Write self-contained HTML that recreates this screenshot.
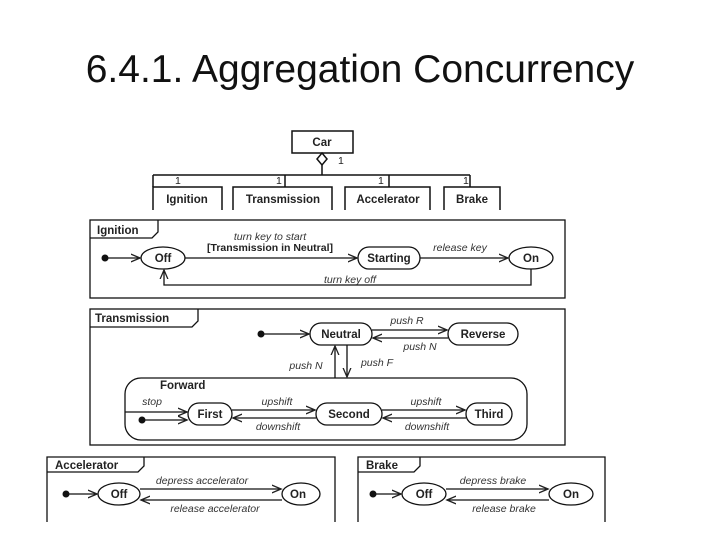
<!DOCTYPE html>
<html><head><meta charset="utf-8"><style>
body{margin:0;background:#fff;width:720px;height:540px;overflow:hidden}
svg{display:block}
text{font-family:"Liberation Sans",sans-serif}
.t{font-size:10.5px;fill:#222}
.b{font-size:11.5px;font-weight:bold;fill:#222}
.i{font-size:10.5px;font-style:italic;fill:#333}
</style></head><body>
<svg width="720" height="540" viewBox="0 0 720 540">
<defs><marker id="a" markerWidth="8" markerHeight="8" refX="7" refY="4" orient="auto"><path d="M0,1 L7,4 L0,7" fill="none" stroke="#222" stroke-width="1"/></marker></defs>
<text x="360" y="82" text-anchor="middle" style="font-size:39px;fill:#111">6.4.1. Aggregation Concurrency</text>
<g stroke="#111" fill="none" stroke-width="1.5">
<rect x="292" y="131" width="61" height="22"/>
<path d="M322,153 L327,159 L322,165 L317,159 Z" fill="#fff"/>
<path d="M322,165 V175 M153,175 H470 M153,175 V187 M285,175 V187 M389,175 V187 M470,175 V187"/>
<path d="M153,210 V187 H222 V210 M233,210 V187 H332 V210 M345,210 V187 H430 V210 M444,210 V187 H500 V210"/>
</g>
<g text-anchor="middle">
<text class="b" x="322" y="146">Car</text>
<text class="b" x="187" y="203">Ignition</text>
<text class="b" x="283" y="203">Transmission</text>
<text class="b" x="388" y="203">Accelerator</text>
<text class="b" x="472" y="203">Brake</text>
</g>
<text class="t" x="338" y="164">1</text>
<text class="t" x="175" y="184">1</text>
<text class="t" x="276" y="184">1</text>
<text class="t" x="378" y="184">1</text>
<text class="t" x="463" y="184">1</text>

<!-- Ignition -->
<g stroke="#111" fill="none" stroke-width="1.3">
<rect x="90" y="220" width="475" height="78"/>
<path d="M90,238 H152 L158,232 V220"/>
<ellipse cx="163" cy="258" rx="22" ry="11" fill="#fff"/>
<rect x="358" y="247" width="62" height="22" rx="11" fill="#fff"/>
<ellipse cx="531" cy="258" rx="22" ry="11" fill="#fff"/>
<path d="M108,258 H140" marker-end="url(#a)"/>
<path d="M185,258 H357" marker-end="url(#a)"/>
<path d="M420,258 H508" marker-end="url(#a)"/>
<path d="M531,269 V285 H164 V270" marker-end="url(#a)"/>
</g>
<circle cx="105" cy="258" r="3.5" fill="#111"/>
<text class="b" x="97" y="234">Ignition</text>
<g text-anchor="middle">
<text class="b" x="163" y="262">Off</text>
<text class="b" x="389" y="262">Starting</text>
<text class="b" x="531" y="262">On</text>
<text class="i" x="270" y="240">turn key to start</text>
<text class="t" x="270" y="251" style="font-weight:bold">[Transmission in Neutral]</text>
<text class="i" x="460" y="251">release key</text>
<text class="i" x="350" y="283">turn key off</text>
</g>

<!-- Transmission -->
<g stroke="#111" fill="none" stroke-width="1.3">
<rect x="90" y="309" width="475" height="136"/>
<path d="M90,327 H192 L198,321 V309"/>
<rect x="310" y="323" width="62" height="22" rx="11" fill="#fff"/>
<rect x="448" y="323" width="70" height="22" rx="11" fill="#fff"/>
<rect x="125" y="378" width="402" height="62" rx="16"/>
<path d="M264,334 H309" marker-end="url(#a)"/>
<path d="M372,330 H447" marker-end="url(#a)"/>
<path d="M448,338 H373" marker-end="url(#a)"/>
<path d="M335,378 V346" marker-end="url(#a)"/>
<path d="M347,345 V377" marker-end="url(#a)"/>
<path d="M125,412 H187" marker-end="url(#a)"/>
<path d="M145,420 H187" marker-end="url(#a)"/>
<rect x="188" y="403" width="44" height="22" rx="11" fill="#fff"/>
<rect x="316" y="403" width="66" height="22" rx="11" fill="#fff"/>
<rect x="466" y="403" width="46" height="22" rx="11" fill="#fff"/>
<path d="M232,410 H315" marker-end="url(#a)"/>
<path d="M316,418 H233" marker-end="url(#a)"/>
<path d="M382,410 H465" marker-end="url(#a)"/>
<path d="M466,418 H383" marker-end="url(#a)"/>
</g>
<circle cx="261" cy="334" r="3.5" fill="#111"/>
<circle cx="142" cy="420" r="3.5" fill="#111"/>
<text class="b" x="95" y="322">Transmission</text>
<text class="b" x="160" y="389">Forward</text>
<g text-anchor="middle">
<text class="b" x="341" y="338">Neutral</text>
<text class="b" x="483" y="338">Reverse</text>
<text class="b" x="210" y="418">First</text>
<text class="b" x="349" y="418">Second</text>
<text class="b" x="489" y="418">Third</text>
<text class="i" x="407" y="324">push R</text>
<text class="i" x="420" y="350">push N</text>
<text class="i" x="306" y="369">push N</text>
<text class="i" x="377" y="366">push F</text>
<text class="i" x="152" y="405">stop</text>
<text class="i" x="277" y="405">upshift</text>
<text class="i" x="278" y="430">downshift</text>
<text class="i" x="426" y="405">upshift</text>
<text class="i" x="427" y="430">downshift</text>
</g>

<!-- Accelerator -->
<g stroke="#111" fill="none" stroke-width="1.3">
<path d="M47,522 V457 H335 V522"/>
<path d="M47,472 H138 L144,466 V457"/>
<ellipse cx="119" cy="494" rx="21" ry="11" fill="#fff"/>
<ellipse cx="301" cy="494" rx="19" ry="11" fill="#fff"/>
<path d="M67,494 H97" marker-end="url(#a)"/>
<path d="M140,489 H281" marker-end="url(#a)"/>
<path d="M282,500 H141" marker-end="url(#a)"/>
</g>
<circle cx="66" cy="494" r="3.5" fill="#111"/>
<text class="b" x="55" y="469">Accelerator</text>
<g text-anchor="middle">
<text class="b" x="119" y="498">Off</text>
<text class="b" x="298" y="498">On</text>
<text class="i" x="202" y="484">depress accelerator</text>
<text class="i" x="215" y="512">release accelerator</text>
</g>

<!-- Brake -->
<g stroke="#111" fill="none" stroke-width="1.3">
<path d="M358,522 V457 H605 V522"/>
<path d="M358,472 H414 L420,466 V457"/>
<ellipse cx="424" cy="494" rx="22" ry="11" fill="#fff"/>
<ellipse cx="571" cy="494" rx="22" ry="11" fill="#fff"/>
<path d="M375,494 H401" marker-end="url(#a)"/>
<path d="M446,489 H548" marker-end="url(#a)"/>
<path d="M549,500 H447" marker-end="url(#a)"/>
</g>
<circle cx="373" cy="494" r="3.5" fill="#111"/>
<text class="b" x="366" y="469">Brake</text>
<g text-anchor="middle">
<text class="b" x="424" y="498">Off</text>
<text class="b" x="571" y="498">On</text>
<text class="i" x="493" y="484">depress brake</text>
<text class="i" x="504" y="512">release brake</text>
</g>
</svg>
</body></html>
